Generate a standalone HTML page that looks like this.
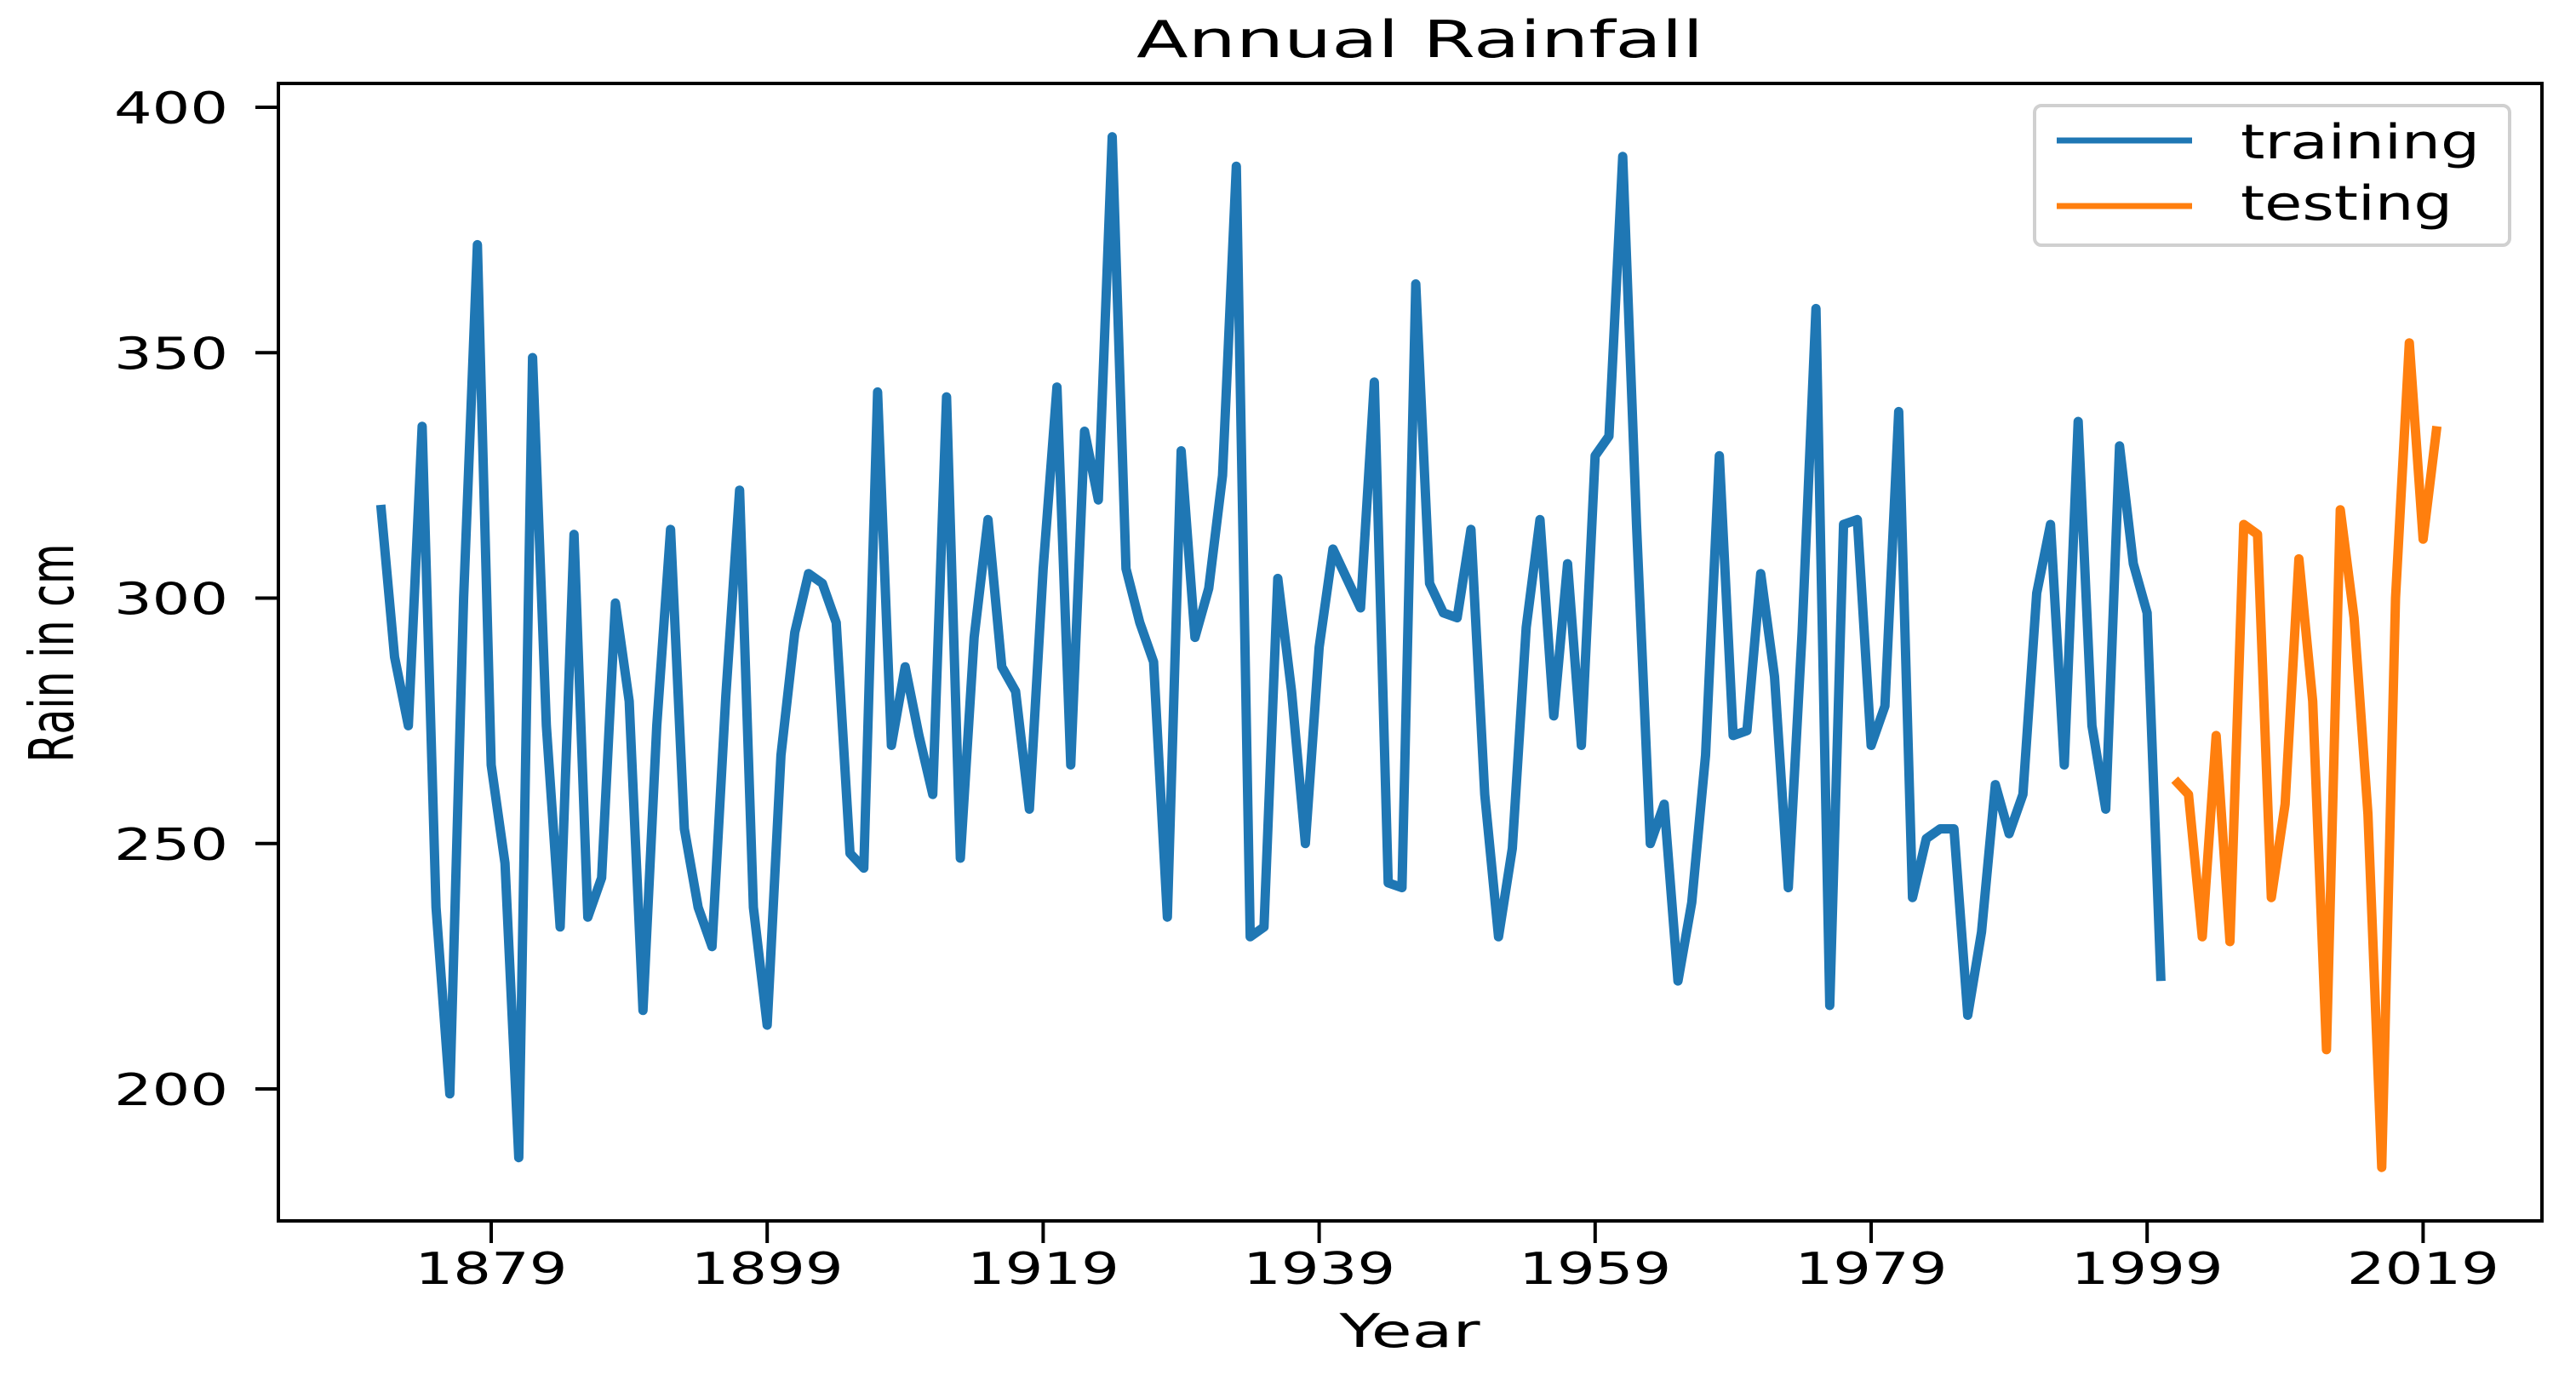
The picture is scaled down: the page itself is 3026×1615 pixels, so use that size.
<!DOCTYPE html>
<html><head><meta charset="utf-8"><style>
html,body{margin:0;padding:0;background:#fff;}
svg{display:block;}
text{font-family:"DejaVu Sans","Liberation Sans",sans-serif;fill:#000;}
</style></head><body>
<svg id="chart" width="3026" height="1615" viewBox="0 0 3026 1615">
<rect x="0" y="0" width="3026" height="1615" fill="#fff"/>
<text x="1668" y="67" text-anchor="middle" font-size="60" textLength="666" lengthAdjust="spacingAndGlyphs">Annual Rainfall</text>
<g id="plot"></g>
<rect x="327" y="98" width="2659" height="1336" fill="none" stroke="#000" stroke-width="4"/>
<g id="yaxis"></g>
<g id="xaxis"></g>
<text transform="translate(86,767) rotate(-90)" text-anchor="middle" font-size="72" textLength="257" lengthAdjust="spacingAndGlyphs" font-family="Liberation Sans Narrow, Liberation Sans, sans-serif">Rain in cm</text>
<text x="1656" y="1582" text-anchor="middle" font-size="54" textLength="165" lengthAdjust="spacingAndGlyphs">Year</text>
<g>
<rect x="2390" y="124" width="558" height="164" rx="8" fill="#fff" fill-opacity="0.8" stroke="#d0d0d0" stroke-width="4"/>
<line x1="2416" y1="165" x2="2575" y2="165" stroke="#1f77b4" stroke-width="7"/>
<text x="2632" y="186" font-size="56" textLength="281" lengthAdjust="spacingAndGlyphs">training</text>
<line x1="2416" y1="242" x2="2575" y2="242" stroke="#ff7f0e" stroke-width="7"/>
<text x="2632" y="258" font-size="56" textLength="249" lengthAdjust="spacingAndGlyphs">testing</text>
</g>
</svg>
<script>
const trainStartYear = 1871;
const trainValues = [319,288,274,335,237,199,300,372,266,246,186,349,274,233,313,235,243,299,279,216,274,314,253,237,229,280,322,237,213,268,293,305,303,295,248,245,342,270,286,272,260,341,247,292,316,286,281,257,306,343,266,334,320,394,306,295,287,235,330,292,302,325,388,231,233,304,281,250,290,310,304,298,344,242,241,364,303,297,296,314,260,231,249,294,316,276,307,270,329,333,390,315,250,258,222,238,268,329,272,273,305,284,241,293,359,217,315,316,270,278,338,239,251,253,253,215,232,262,252,260,301,315,266,336,274,257,331,307,297,222];
const testStartYear = 2001;
const testValues = [263,260,231,272,230,315,313,239,258,308,279,208,318,296,256,184,300,352,312,335];
const yTicks = [200,250,300,350,400];
const xTicks = [1879,1899,1919,1939,1959,1979,1999,2019];

const NS = "http://www.w3.org/2000/svg";
function xs(year){ return 577 + (year - 1879) * 16.21; }
function ys(v){ return 126 + (400 - v) * (1279 - 126) / 200; }

function mk(tag, attrs, parent){
  const el = document.createElementNS(NS, tag);
  for (const k in attrs) el.setAttribute(k, attrs[k]);
  parent.appendChild(el);
  return el;
}
const plot = document.getElementById('plot');
function series(start, vals, color, name){
  const pts = vals.map((v,i)=>xs(start+i).toFixed(1)+','+ys(v).toFixed(1)).join(' ');
  const pl = mk('polyline', {points: pts, fill: 'none', stroke: color, 'stroke-width': 11, 'stroke-linejoin': 'round'}, plot);
  
  
}
series(trainStartYear, trainValues, '#1f77b4', 'training-line');
series(testStartYear, testValues, '#ff7f0e', 'testing-line');

const ya = document.getElementById('yaxis');
yTicks.forEach(t=>{
  const y = ys(t);
  const ln = mk('line', {x1: 300, y1: y, x2: 327, y2: y, stroke: '#000', 'stroke-width': 4}, ya);
  
  
  const tx = mk('text', {x: 268, y: y + 19, 'text-anchor': 'end', 'font-size': 52, textLength: 134, lengthAdjust: 'spacingAndGlyphs'}, ya);
  tx.textContent = t;
  
  
});
const xa = document.getElementById('xaxis');
xTicks.forEach(t=>{
  const x = xs(t);
  const ln = mk('line', {x1: x, y1: 1434, x2: x, y2: 1460, stroke: '#000', 'stroke-width': 4}, xa);
  
  
  const tx = mk('text', {x: x, y: 1508, 'text-anchor': 'middle', 'font-size': 52, textLength: 179, lengthAdjust: 'spacingAndGlyphs'}, xa);
  tx.textContent = t;
  
  
});
</script>
</body></html>
